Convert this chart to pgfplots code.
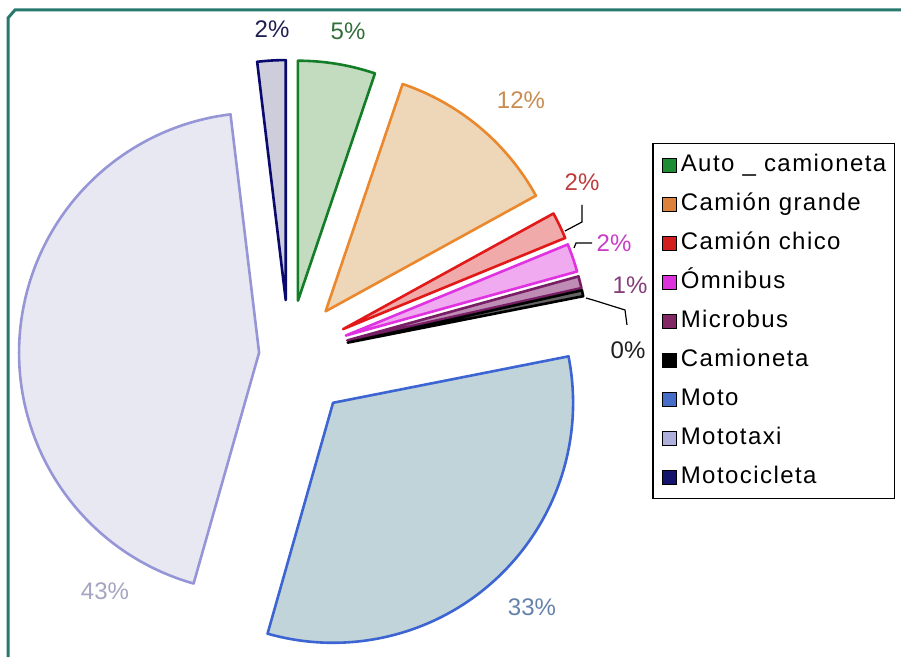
\documentclass[border=0pt]{standalone}
\usepackage{pgfplots}
\pgfplotsset{compat=1.18}
\usepackage{pgfplotstable}
\usepackage{fontspec}
\setmainfont{Liberation Sans}
\newfontfamily\legfont{Liberation Sans}[LetterSpace=6]

\definecolor{autoL}{RGB}{20,125,40}   \definecolor{autoF}{RGB}{195,220,192}
\definecolor{cgL}{RGB}{235,135,45}    \definecolor{cgF}{RGB}{238,214,184}
\definecolor{ccL}{RGB}{225,25,25}     \definecolor{ccF}{RGB}{240,170,170}
\definecolor{omL}{RGB}{225,50,225}    \definecolor{omF}{RGB}{240,170,240}
\definecolor{micL}{RGB}{120,30,100}   \definecolor{micF}{RGB}{190,140,180}
\definecolor{camL}{RGB}{0,0,0}        \definecolor{camF}{RGB}{100,100,100}
\definecolor{motoL}{RGB}{60,100,210}  \definecolor{motoF}{RGB}{192,212,218}
\definecolor{mtxL}{RGB}{150,150,215}  \definecolor{mtxF}{RGB}{232,232,242}
\definecolor{mcL}{RGB}{10,10,110}     \definecolor{mcF}{RGB}{205,205,220}
\definecolor{frame}{RGB}{40,120,110}
% legend square colours
\definecolor{lgA}{RGB}{30,140,50}
\definecolor{lgB}{RGB}{220,130,60}
\definecolor{lgC}{RGB}{210,30,30}
\definecolor{lgD}{RGB}{220,50,220}
\definecolor{lgE}{RGB}{130,40,100}
\definecolor{lgF}{RGB}{0,0,0}
\definecolor{lgG}{RGB}{70,110,200}
\definecolor{lgH}{RGB}{175,175,220}
\definecolor{lgI}{RGB}{20,20,110}

% percent of total, explode distance (px), outline colour, fill colour
\pgfplotstableread{
pct  explode line fill
5.2  55      autoL autoF
11.8 57      cgL   cgF
1.8  60      ccL   ccF
1.9  60      omL   omF
0.8  60      micL  micF
0.4  60      camL  camF
32.5 65      motoL motoF
43.7 30      mtxL  mtxF
1.9  55      mcL   mcF
}\slices

\pgfplotsset{
  legsq/.style={legend image code/.code={%
    \path (0pt,0pt);
    \filldraw[draw=black,fill=#1,line width=0.6pt] (5pt,-7pt) rectangle (19pt,7pt);}}
}

\begin{document}
\begin{tikzpicture}
\begin{axis}[
  width=901pt, height=661pt, scale only axis,
  xmin=0, xmax=901, ymin=0, ymax=661,
  hide axis, clip=false,
  legend style={at={(axis cs:652,518)}, anchor=north west, draw=black, line width=1.5pt,
    fill=white, font=\legfont\fontsize{24}{28}\selectfont,
    inner xsep=4pt, inner ysep=2pt, row sep=0pt,
    nodes={inner xsep=4pt, inner ysep=8pt, text height=18pt, text depth=5pt}},
  legend cell align=left,
]
\path (axis cs:0,0) rectangle (axis cs:901,661);
\pgfplotsextra{%
  \draw[frame, line width=3pt, overlay] (axis cs:8,4) -- (axis cs:8,643) -- (axis cs:15,651) -- (axis cs:905,651);
  \gdef\cum{0}%
  \foreach \i in {0,...,8}{%
    \pgfplotstablegetelem{\i}{pct}\of\slices \let\pp\pgfplotsretval
    \pgfplotstablegetelem{\i}{explode}\of\slices \let\ex\pgfplotsretval
    \pgfplotstablegetelem{\i}{line}\of\slices \let\lc\pgfplotsretval
    \pgfplotstablegetelem{\i}{fill}\of\slices \let\fc\pgfplotsretval
    \pgfmathsetmacro\sa{90-3.6*\cum}%
    \pgfmathsetmacro\ea{90-3.6*(\cum+\pp)}%
    \pgfmathsetmacro\ma{(\sa+\ea)/2}%
    \pgfmathsetmacro\ax{289+\ex*cos(\ma)}%
    \pgfmathsetmacro\ay{306+\ex*sin(\ma)}%
    \filldraw[overlay, draw=\lc, fill=\fc, line width=2.6pt, line join=round]
      (axis cs:\ax,\ay) -- ++(\sa:240pt) arc[start angle=\sa, end angle=\ea, radius=240pt] -- cycle;
    \pgfmathsetmacro\nc{\cum+\pp}%
    \xdef\cum{\nc}%
  }%
}
% leader lines
\draw[black, line width=1.2pt] (axis cs:565,430) -- (axis cs:582,439) -- (axis cs:582,456);
\draw[black, line width=1.2pt] (axis cs:574,413) -- (axis cs:576,418) -- (axis cs:592,418);
\draw[black, line width=1.2pt] (axis cs:586,363) -- (axis cs:593,361) -- (axis cs:625,351) -- (axis cs:627,336);
% data labels
\begin{scope}[every node/.style={font=\fontsize{24}{28}\selectfont}]
\node[text={rgb,255:red,30;green,30;blue,80}]   at (axis cs:272,632) {2\%};
\node[text={rgb,255:red,50;green,110;blue,60}]  at (axis cs:348,630) {5\%};
\node[text={rgb,255:red,200;green,140;blue,80}] at (axis cs:521,561) {12\%};
\node[text={rgb,255:red,190;green,60;blue,60}]  at (axis cs:582,479) {2\%};
\node[text={rgb,255:red,200;green,60;blue,200}] at (axis cs:614,418) {2\%};
\node[text={rgb,255:red,130;green,60;blue,120}] at (axis cs:630,376) {1\%};
\node[text={rgb,255:red,30;green,30;blue,30}]   at (axis cs:628,311) {0\%};
\node[text={rgb,255:red,100;green,130;blue,170}] at (axis cs:532,54) {33\%};
\node[text={rgb,255:red,165;green,165;blue,195}] at (axis cs:105,70) {43\%};
\end{scope}
% legend
\addlegendimage{legsq=lgA}
\addlegendentry{Auto \_ camioneta}
\addlegendimage{legsq=lgB}
\addlegendentry{Camión grande}
\addlegendimage{legsq=lgC}
\addlegendentry{Camión chico}
\addlegendimage{legsq=lgD}
\addlegendentry{Ómnibus}
\addlegendimage{legsq=lgE}
\addlegendentry{Microbus}
\addlegendimage{legsq=lgF}
\addlegendentry{Camioneta}
\addlegendimage{legsq=lgG}
\addlegendentry{Moto}
\addlegendimage{legsq=lgH}
\addlegendentry{Mototaxi}
\addlegendimage{legsq=lgI}
\addlegendentry{Motocicleta}
\end{axis}
\end{tikzpicture}
\end{document}
